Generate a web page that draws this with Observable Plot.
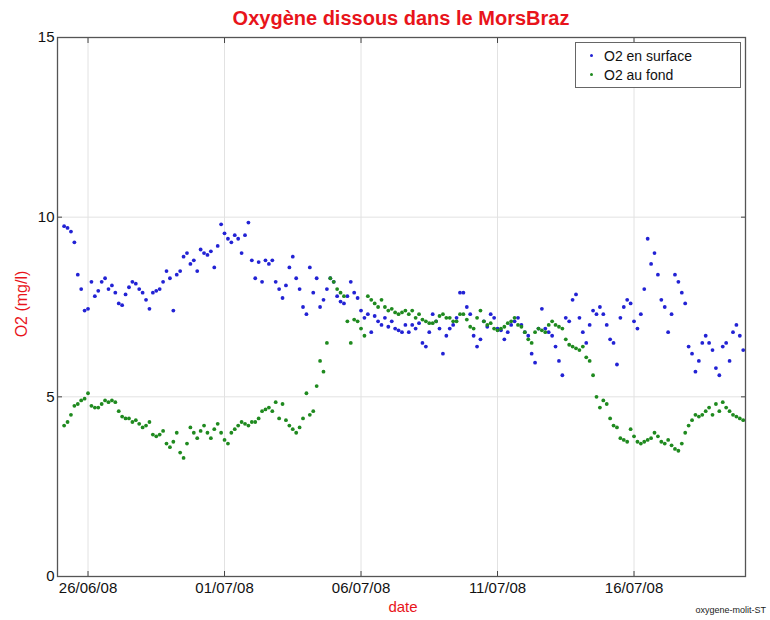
<!DOCTYPE html>
<html><head><meta charset="utf-8">
<script src="https://cdn.jsdelivr.net/npm/d3@7"></script>
<script src="https://cdn.jsdelivr.net/npm/@observablehq/plot@0.6"></script>
<style>
body{margin:0;background:#fff;font-family:"Liberation Sans",Arial,sans-serif;}
#wrap{position:relative;width:770px;height:620px;overflow:hidden;}
#title{position:absolute;left:0;width:802px;top:7px;text-align:center;color:#e8141b;font-weight:bold;font-size:20px;}
#ylab{position:absolute;left:22px;top:304px;transform:translate(-50%,-50%) rotate(-90deg);color:#e8141b;font-size:16px;white-space:nowrap;}
#xlab{position:absolute;left:403px;top:598px;transform:translateX(-50%);color:#e8141b;font-size:15px;}
#cap{position:absolute;right:4px;top:605px;font-size:9px;color:#222;}
#legend{position:absolute;left:575px;top:42px;width:166px;height:46px;border:1.5px solid #666;background:#fff;box-sizing:border-box;font-size:14px;color:#111;}
#legend .row{position:absolute;left:0;height:18px;line-height:18px;}
#legend .dot{position:absolute;left:14px;top:7px;width:3px;height:3px;border-radius:50%;}
#legend .lbl{position:absolute;left:28px;white-space:nowrap;}
svg{position:absolute;left:0;top:0;}
</style></head><body><div id="wrap"></div>
<script>
const seriesNames = ["O2 en surface", "O2 au fond"];
const seriesColors = ["#2222d4", "#1f8a1f"];
const startTime = "2008-06-25T03:00:00Z";
const stepHours = 3;
const surface = [
 9.75,9.7,9.6,9.3,8.4,8.0,7.4,
 7.45,8.2,7.8,7.95,8.2,8.3,8.0,8.1,
 7.9,7.6,7.55,7.85,8.05,8.2,8.15,8.0,
 7.9,7.7,7.45,7.9,7.95,8.0,8.2,8.5,
 8.3,7.4,8.4,8.5,8.9,9.0,8.7,8.8,
 8.5,9.1,9.0,8.95,9.05,8.6,9.2,9.8,
 9.55,9.4,9.3,9.5,9.4,9.0,9.5,9.85,
 8.8,8.3,8.75,8.2,8.8,8.7,8.8,8.2,
 8.0,7.75,8.1,8.6,8.9,8.3,8.0,7.5,
 7.3,8.6,7.9,8.3,7.5,7.7,8.0,8.3,
 8.2,7.8,7.65,7.6,7.8,8.2,7.9,7.75,
 7.4,7.2,7.3,6.8,7.25,7.1,7.0,7.2,
 6.95,7.1,6.9,6.85,6.8,7.0,6.8,7.0,
 6.9,7.05,6.5,6.4,6.8,7.3,7.1,6.9,
 6.2,6.7,6.9,7.0,7.2,7.9,7.9,7.5,
 7.3,6.7,6.4,6.6,7.1,6.95,7.3,7.2,
 6.9,6.85,6.6,6.8,7.0,7.1,7.2,7.0,
 6.8,6.7,6.2,5.95,6.9,7.45,6.9,6.8,
 6.7,6.4,6.0,5.6,7.2,7.1,7.7,7.85,
 7.2,6.8,6.5,7.0,7.4,7.3,7.5,7.3,
 7.0,6.6,6.5,5.9,7.2,7.5,7.7,7.6,
 7.1,6.9,7.3,8.0,9.4,8.7,9.0,8.4,
 7.7,7.5,6.8,7.3,8.4,8.2,7.9,7.6,
 6.4,6.2,5.7,6.0,6.5,6.7,6.5,6.3,
 5.8,5.6,6.4,6.5,6.0,6.8,7.0,6.7,
 6.3
];
const fond = [
 4.2,4.3,4.5,4.75,4.8,4.9,4.95,
 5.1,4.75,4.7,4.7,4.8,4.9,4.85,4.9,
 4.85,4.6,4.45,4.4,4.4,4.3,4.35,4.25,
 4.15,4.2,4.3,3.95,3.9,3.95,4.05,3.7,
 3.6,3.75,4.0,3.45,3.3,3.7,4.15,4.0,
 3.85,4.05,4.2,4.0,3.85,4.1,4.25,4.0,
 3.8,3.7,4.0,4.1,4.2,4.3,4.25,4.2,
 4.3,4.3,4.4,4.6,4.65,4.7,4.6,4.85,
 4.4,4.8,4.35,4.2,4.1,4.0,4.15,4.4,
 5.1,4.5,4.6,5.3,6.0,5.7,6.5,8.3,
 8.2,8.0,7.9,7.8,7.1,6.5,7.15,7.1,
 6.9,6.7,7.8,7.7,7.6,7.5,7.7,7.5,
 7.4,7.45,7.35,7.3,7.35,7.4,7.3,7.4,
 7.2,7.3,7.15,7.1,7.05,7.05,7.1,7.25,
 7.3,7.2,7.2,7.1,7.1,7.3,7.3,7.15,
 6.95,6.9,7.2,7.4,7.1,7.0,7.05,6.9,
 6.85,6.9,6.95,7.05,7.1,7.2,7.0,6.95,
 6.8,6.6,6.5,6.8,6.9,6.85,6.8,7.0,
 7.1,7.0,6.95,6.9,6.6,6.45,6.4,6.35,
 6.3,6.4,6.1,6.0,5.6,5.0,4.7,4.9,
 4.8,4.4,4.2,4.15,3.85,3.8,3.75,4.1,
 3.9,3.75,3.7,3.75,3.8,3.85,4.0,3.9,
 3.75,3.7,3.8,3.65,3.55,3.5,3.7,4.0,
 4.2,4.35,4.5,4.45,4.5,4.6,4.7,4.5,
 4.8,4.6,4.85,4.7,4.6,4.5,4.45,4.4,
 4.35
];
const xTickDates = ["2008-06-26", "2008-07-01", "2008-07-06", "2008-07-11", "2008-07-16"];
const yTicks = [0, 5, 10, 15];
const xDomain = ["2008-06-24T21:10:00Z", "2008-07-20T02:00:00Z"];
const yDomain = [0, 15];

const t0 = new Date(startTime).getTime();
const rows = [];
[surface, fond].forEach((arr, si) => {
  arr.forEach((v, k) => rows.push({date: new Date(t0 + k * stepHours * 3600e3), value: v, series: seriesNames[si]}));
});
const xt = xTickDates.map(s => new Date(s + "T00:00:00Z"));
const fmt = d3.utcFormat("%d/%m/%y");

const chart = Plot.plot({
  width: 770, height: 620,
  marginTop: 37, marginRight: 25, marginBottom: 44, marginLeft: 57,
  style: {fontFamily: '"Liberation Sans", Arial, sans-serif', fontSize: "14px", color: "#111", background: "transparent"},
  x: {type: "utc", domain: xDomain.map(s => new Date(s))},
  y: {domain: yDomain},
  color: {domain: seriesNames, range: seriesColors},
  marks: [
    Plot.gridX(xt, {stroke: "#e2e2e2", strokeOpacity: 1}),
    Plot.gridY(yTicks, {stroke: "#e2e2e2", strokeOpacity: 1}),
    Plot.dot(rows, {x: "date", y: "value", fill: "series", r: 1.9, stroke: null}),
    Plot.axisX(xt, {anchor: "bottom", tickSize: -5, tickPadding: 11, tickFormat: fmt, label: null, stroke: "#444", fontSize: 15}),
    Plot.axisX(xt, {anchor: "top", tickSize: -5, tickFormat: () => "", label: null, stroke: "#444"}),
    Plot.axisY(yTicks, {anchor: "left", tickSize: -5, tickPadding: 8, tickFormat: d => String(d), label: null, stroke: "#444", fontSize: 15}),
    Plot.axisY(yTicks, {anchor: "right", tickSize: -5, tickFormat: () => "", label: null, stroke: "#444"}),
    Plot.frame({stroke: "#555", strokeWidth: 1.3})
  ]
});
const wrap = document.getElementById("wrap");
wrap.appendChild(chart);
wrap.insertAdjacentHTML("beforeend",
  `<div id="title">Oxygène dissous dans le MorsBraz</div>
   <div id="ylab">O2 (mg/l)</div>
   <div id="xlab">date</div>
   <div id="cap">oxygene-molit-ST</div>
   <div id="legend">
     <div class="row" style="top:4px;width:100%"><span class="dot" style="background:${seriesColors[0]}"></span><span class="lbl">${seriesNames[0]}</span></div>
     <div class="row" style="top:23px;width:100%"><span class="dot" style="background:${seriesColors[1]}"></span><span class="lbl">${seriesNames[1]}</span></div>
   </div>`);
</script>
</body></html>
